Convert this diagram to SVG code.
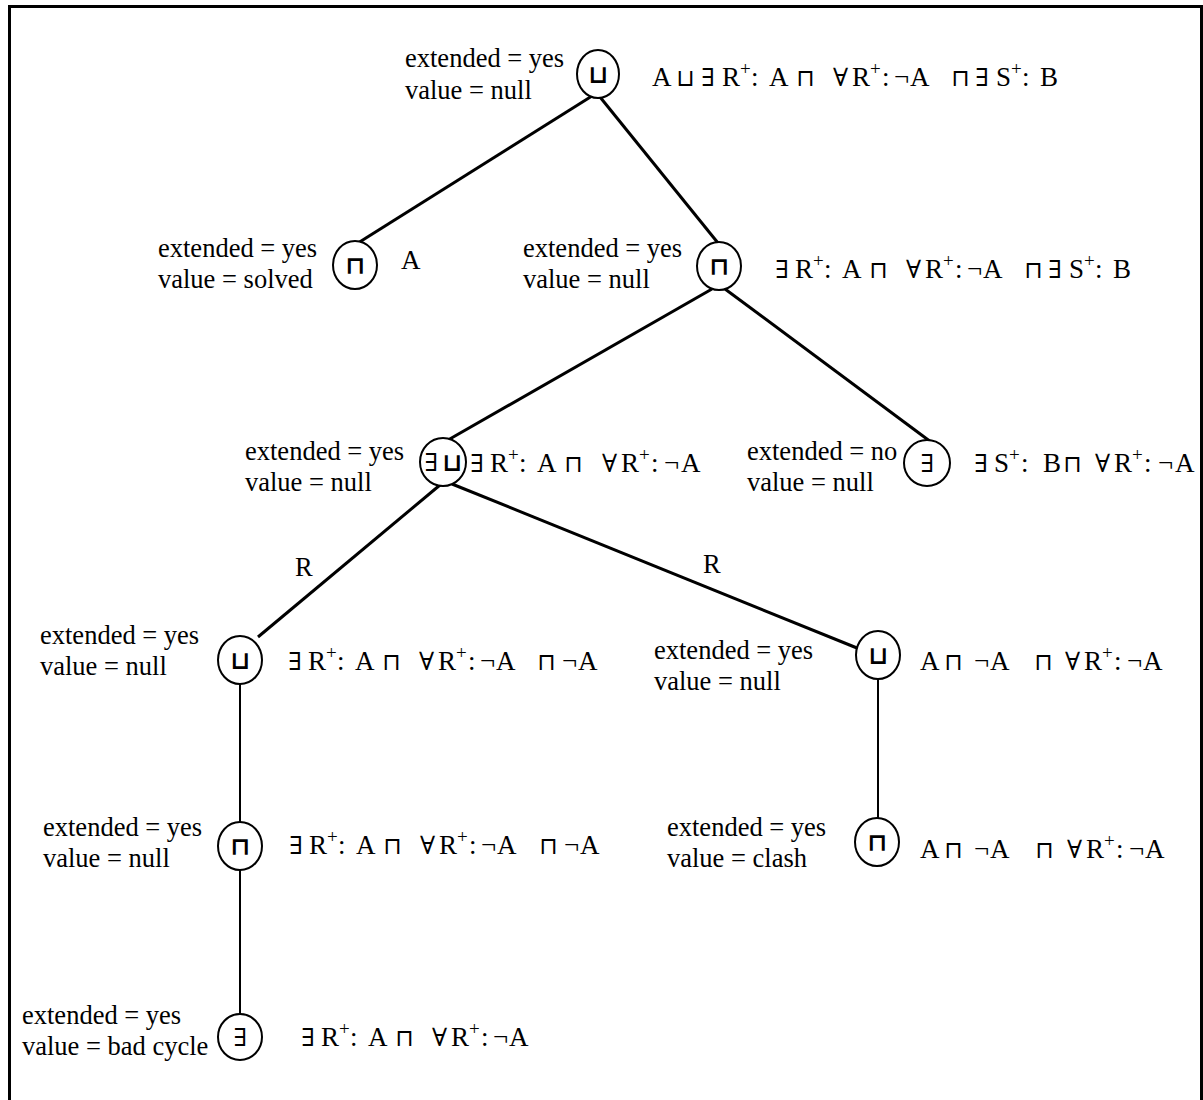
<svg xmlns="http://www.w3.org/2000/svg" width="1203" height="1100" viewBox="0 0 1203 1100">
<style>
.t{font-family:"Liberation Serif","Times New Roman",serif;font-size:26.5px;fill:#000;white-space:pre}
.f{font-family:"Liberation Serif","Times New Roman",serif;font-size:27px;fill:#000}
.q{font-family:"DejaVu Serif",serif;font-size:25px}
.op{font-family:"DejaVu Sans",sans-serif;font-size:24px}
.sup{font-size:19px}
.sym{font-family:"DejaVu Sans",sans-serif;font-size:25px;font-weight:bold;fill:#000;text-anchor:middle}
.ex{font-family:"DejaVu Serif",serif;font-size:25px;fill:#000;text-anchor:middle}
.c{fill:#fff;stroke:#000;stroke-width:2}
.e{stroke:#000;stroke-width:3;fill:none}
.v{stroke:#000;stroke-width:2;fill:none}
</style>
<rect x="9.5" y="6.5" width="1192" height="1110" fill="#fff" stroke="#000" stroke-width="3"/>
<g id="connectors">
<line class="e" x1="592" y1="96" x2="358" y2="243"/>
<line class="e" x1="600" y1="97" x2="718" y2="243"/>
<line class="e" x1="712" y1="289" x2="448" y2="440"/>
<line class="e" x1="725" y1="289" x2="931" y2="442"/>
<line class="e" x1="440" y1="485" x2="258" y2="637"/>
<line class="e" x1="452" y1="484" x2="857" y2="648"/>
<line class="v" x1="240" y1="684" x2="240" y2="822"/>
<line class="v" x1="878" y1="679" x2="878" y2="818"/>
<line class="v" x1="240" y1="870" x2="240" y2="1013"/>
<text class="t" x="295" y="576">R</text>
<text class="t" x="703" y="573">R</text>
</g>
<g id="n1">
<ellipse class="c" cx="598" cy="74" rx="21" ry="24"/>
<text class="sym" x="598" y="83">⊔</text>
<text class="t" x="405" y="67">extended = yes</text>
<text class="t" x="405" y="99">value = null</text>
<text class="f" y="86"><tspan x="652">A</tspan><tspan class="op" x="676">⊔</tspan><tspan class="q" x="701">∃</tspan><tspan x="722">R</tspan><tspan class="sup" x="740" y="75">+</tspan><tspan x="751" y="86">:</tspan><tspan x="769">A</tspan><tspan class="op" x="796">⊓</tspan><tspan class="q" x="833">∀</tspan><tspan x="852">R</tspan><tspan class="sup" x="870" y="75">+</tspan><tspan x="882" y="86">:</tspan><tspan x="894">¬</tspan><tspan x="910">A</tspan><tspan class="op" x="951">⊓</tspan><tspan class="q" x="975">∃</tspan><tspan x="996">S</tspan><tspan class="sup" x="1011" y="75">+</tspan><tspan x="1022" y="86">:</tspan><tspan x="1040">B</tspan></text>
</g>
<g id="n2">
<ellipse class="c" cx="355" cy="265" rx="22" ry="24"/>
<text class="sym" x="355" y="274">⊓</text>
<text class="t" x="158" y="257">extended = yes</text>
<text class="t" x="158" y="288">value = solved</text>
<text class="f" x="401" y="269">A</text>
</g>
<g id="n3">
<ellipse class="c" cx="719" cy="266" rx="22" ry="24"/>
<text class="sym" x="719" y="275">⊓</text>
<text class="t" x="523" y="257">extended = yes</text>
<text class="t" x="523" y="288">value = null</text>
<text class="f" y="278"><tspan class="q" x="775">∃</tspan><tspan x="795">R</tspan><tspan class="sup" x="813" y="267">+</tspan><tspan x="824" y="278">:</tspan><tspan x="842">A</tspan><tspan class="op" x="869">⊓</tspan><tspan class="q" x="906">∀</tspan><tspan x="925">R</tspan><tspan class="sup" x="943" y="267">+</tspan><tspan x="955" y="278">:</tspan><tspan x="967">¬</tspan><tspan x="983">A</tspan><tspan class="op" x="1024">⊓</tspan><tspan class="q" x="1048">∃</tspan><tspan x="1069">S</tspan><tspan class="sup" x="1084" y="267">+</tspan><tspan x="1095" y="278">:</tspan><tspan x="1113">B</tspan></text>
</g>
<g id="n4">
<ellipse class="c" cx="443" cy="462" rx="23" ry="24"/>
<text class="ex" x="431" y="471">∃</text>
<text class="sym" x="452" y="471">⊔</text>
<text class="t" x="245" y="460">extended = yes</text>
<text class="t" x="245" y="491">value = null</text>
<text class="f" y="472"><tspan class="q" x="470">∃</tspan><tspan x="490">R</tspan><tspan class="sup" x="508" y="461">+</tspan><tspan x="519" y="472">:</tspan><tspan x="537">A</tspan><tspan class="op" x="564">⊓</tspan><tspan class="q" x="602">∀</tspan><tspan x="621">R</tspan><tspan class="sup" x="639" y="461">+</tspan><tspan x="651" y="472">:</tspan><tspan x="664">¬</tspan><tspan x="681">A</tspan></text>
</g>
<g id="n5">
<ellipse class="c" cx="927" cy="463" rx="23" ry="23"/>
<text class="ex" x="927" y="472">∃</text>
<text class="t" x="747" y="460">extended = no</text>
<text class="t" x="747" y="491">value = null</text>
<text class="f" y="472"><tspan class="q" x="974">∃</tspan><tspan x="994">S</tspan><tspan class="sup" x="1009" y="461">+</tspan><tspan x="1021" y="472">:</tspan><tspan x="1043">B</tspan><tspan class="op" x="1063">⊓</tspan><tspan class="q" x="1095">∀</tspan><tspan x="1114">R</tspan><tspan class="sup" x="1132" y="461">+</tspan><tspan x="1144" y="472">:</tspan><tspan x="1158">¬</tspan><tspan x="1175">A</tspan></text>
</g>
<g id="n6">
<ellipse class="c" cx="240" cy="660" rx="22" ry="24"/>
<text class="sym" x="240" y="669">⊔</text>
<text class="t" x="40" y="644">extended = yes</text>
<text class="t" x="40" y="675">value = null</text>
<text class="f" y="670"><tspan class="q" x="288">∃</tspan><tspan x="308">R</tspan><tspan class="sup" x="326" y="659">+</tspan><tspan x="337" y="670">:</tspan><tspan x="355">A</tspan><tspan class="op" x="382">⊓</tspan><tspan class="q" x="419">∀</tspan><tspan x="438">R</tspan><tspan class="sup" x="456" y="659">+</tspan><tspan x="468" y="670">:</tspan><tspan x="480">¬</tspan><tspan x="496">A</tspan><tspan class="op" x="537">⊓</tspan><tspan x="562">¬</tspan><tspan x="578">A</tspan></text>
</g>
<g id="n7">
<ellipse class="c" cx="878" cy="655" rx="22" ry="24"/>
<text class="sym" x="878" y="664">⊔</text>
<text class="t" x="654" y="659">extended = yes</text>
<text class="t" x="654" y="690">value = null</text>
<text class="f" y="670"><tspan x="920">A</tspan><tspan class="op" x="944">⊓</tspan><tspan x="974">¬</tspan><tspan x="990">A</tspan><tspan class="op" x="1034">⊓</tspan><tspan class="q" x="1065">∀</tspan><tspan x="1084">R</tspan><tspan class="sup" x="1102" y="659">+</tspan><tspan x="1114" y="670">:</tspan><tspan x="1127">¬</tspan><tspan x="1143">A</tspan></text>
</g>
<g id="n8">
<ellipse class="c" cx="240" cy="846" rx="22" ry="24"/>
<text class="sym" x="240" y="855">⊓</text>
<text class="t" x="43" y="836">extended = yes</text>
<text class="t" x="43" y="867">value = null</text>
<text class="f" y="854"><tspan class="q" x="289">∃</tspan><tspan x="309">R</tspan><tspan class="sup" x="327" y="843">+</tspan><tspan x="338" y="854">:</tspan><tspan x="356">A</tspan><tspan class="op" x="383">⊓</tspan><tspan class="q" x="420">∀</tspan><tspan x="439">R</tspan><tspan class="sup" x="457" y="843">+</tspan><tspan x="469" y="854">:</tspan><tspan x="481">¬</tspan><tspan x="497">A</tspan><tspan class="op" x="539">⊓</tspan><tspan x="564">¬</tspan><tspan x="580">A</tspan></text>
</g>
<g id="n9">
<ellipse class="c" cx="877" cy="842" rx="22" ry="24"/>
<text class="sym" x="877" y="851">⊓</text>
<text class="t" x="667" y="836">extended = yes</text>
<text class="t" x="667" y="867">value = clash</text>
<text class="f" y="858"><tspan x="920">A</tspan><tspan class="op" x="944">⊓</tspan><tspan x="974">¬</tspan><tspan x="990">A</tspan><tspan class="op" x="1035">⊓</tspan><tspan class="q" x="1067">∀</tspan><tspan x="1086">R</tspan><tspan class="sup" x="1104" y="847">+</tspan><tspan x="1116" y="858">:</tspan><tspan x="1129">¬</tspan><tspan x="1145">A</tspan></text>
</g>
<g id="n10">
<ellipse class="c" cx="240" cy="1037" rx="22" ry="23"/>
<text class="ex" x="240" y="1046">∃</text>
<text class="t" x="22" y="1024">extended = yes</text>
<text class="t" x="22" y="1055">value = bad cycle</text>
<text class="f" y="1046"><tspan class="q" x="301">∃</tspan><tspan x="321">R</tspan><tspan class="sup" x="339" y="1035">+</tspan><tspan x="350" y="1046">:</tspan><tspan x="368">A</tspan><tspan class="op" x="395">⊓</tspan><tspan class="q" x="432">∀</tspan><tspan x="451">R</tspan><tspan class="sup" x="469" y="1035">+</tspan><tspan x="481" y="1046">:</tspan><tspan x="493">¬</tspan><tspan x="509">A</tspan></text>
</g>
</svg>
